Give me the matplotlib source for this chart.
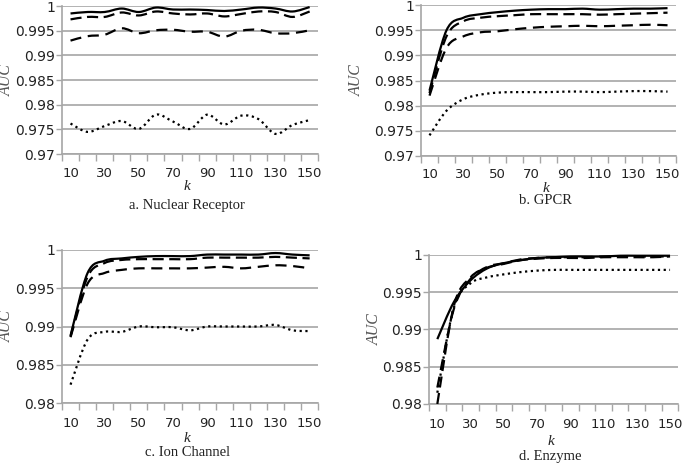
import numpy as np
import matplotlib
matplotlib.use("Agg")
import matplotlib.pyplot as plt
from matplotlib.path import Path
from matplotlib.patches import PathPatch

# k values (category axis)
k = [10, 20, 30, 40, 50, 60, 70, 80, 90, 100, 110, 120, 130, 140, 150]
k_labels = [10, 30, 50, 70, 90, 110, 130, 150]

# a. Nuclear Receptor
a_solid = [0.9985, 0.9988, 0.9988, 0.9995, 0.9988, 0.9997, 0.9993, 0.9993, 0.9992, 0.9990, 0.9993, 0.9997, 0.9995, 0.9989, 0.9998]
a_dash1 = [0.9973, 0.9978, 0.9978, 0.9987, 0.9981, 0.9989, 0.9985, 0.9983, 0.9985, 0.9979, 0.9984, 0.9989, 0.9988, 0.9978, 0.9989]
a_dash2 = [0.9930, 0.9939, 0.9942, 0.9955, 0.9945, 0.9951, 0.9952, 0.9948, 0.9948, 0.9938, 0.9950, 0.9952, 0.9945, 0.9945, 0.9951]
a_dot = [0.9762, 0.9745, 0.9757, 0.9767, 0.9751, 0.9780, 0.9766, 0.9751, 0.9780, 0.9760, 0.9778, 0.9771, 0.9741, 0.9759, 0.9769]

# b. GPCR
b_solid = [0.9830, 0.9950, 0.9975, 0.9982, 0.9986, 0.9989, 0.9991, 0.9992, 0.9992, 0.9993, 0.9991, 0.9992, 0.9993, 0.9993, 0.9994]
b_dash1 = [0.9825, 0.9938, 0.9968, 0.9975, 0.9978, 0.9980, 0.9982, 0.9982, 0.9982, 0.9982, 0.9981, 0.9982, 0.9983, 0.9984, 0.9985]
b_dash2 = [0.9820, 0.9915, 0.9938, 0.9946, 0.9948, 0.9952, 0.9955, 0.9957, 0.9958, 0.9959, 0.9958, 0.9959, 0.9960, 0.9961, 0.9960]
b_dot = [0.9741, 0.9790, 0.9813, 0.9822, 0.9826, 0.9827, 0.9827, 0.9827, 0.9828, 0.9828, 0.9827, 0.9828, 0.9829, 0.9829, 0.9828]

# c. Ion Channel
c_solid = [0.9888, 0.9970, 0.9986, 0.9989, 0.9991, 0.9992, 0.9992, 0.9992, 0.9994, 0.9994, 0.9994, 0.9994, 0.9996, 0.9994, 0.9993]
c_dash1 = [0.9887, 0.9965, 0.9983, 0.9987, 0.9988, 0.9988, 0.9988, 0.9988, 0.9990, 0.9990, 0.9990, 0.9990, 0.9991, 0.9990, 0.9989]
c_dash2 = [0.9886, 0.9956, 0.9970, 0.9974, 0.9976, 0.9976, 0.9976, 0.9976, 0.9977, 0.9978, 0.9976, 0.9978, 0.9980, 0.9979, 0.9976]
c_dot = [0.9824, 0.9883, 0.9893, 0.9893, 0.9900, 0.9899, 0.9899, 0.9895, 0.9900, 0.9900, 0.9900, 0.9900, 0.9902, 0.9895, 0.9894]

# d. Enzyme
d_solid = [0.9887, 0.9937, 0.9966, 0.9982, 0.9989, 0.9993, 0.9996, 0.9997, 0.9998, 0.9998, 0.9998, 0.9999, 0.9999, 0.9999, 0.9999]
d_dash1 = [0.9800, 0.9932, 0.9970, 0.9983, 0.9988, 0.9993, 0.9995, 0.9996, 0.9996, 0.9996, 0.9997, 0.9997, 0.9997, 0.9997, 0.9998]
d_dash2 = [0.9822, 0.9928, 0.9968, 0.9984, 0.9989, 0.9994, 0.9996, 0.9997, 0.9997, 0.9997, 0.9998, 0.9998, 0.9998, 0.9998, 0.9998]
d_dot = [0.9815, 0.9930, 0.9962, 0.9970, 0.9974, 0.9977, 0.9979, 0.9980, 0.9980, 0.9980, 0.9980, 0.9980, 0.9980, 0.9980, 0.9980]

yticks_ab = [0.97, 0.975, 0.98, 0.985, 0.99, 0.995, 1]
yticks_cd = [0.98, 0.985, 0.99, 0.995, 1]

grid_color = "#a6a6a6"
styles = [
    dict(linestyle="solid", lw=1.6),
    dict(linestyle=(0, (5, 2.5)), lw=1.6),
    dict(linestyle=(0, (5, 3)), lw=1.6),
    dict(linestyle=(0, (1, 1.6)), lw=1.6),
]


def smooth_path(x, y):
    # excel-like smoothed line: cubic bezier through every data point
    x = np.asarray(x, float)
    y = np.asarray(y, float)
    n = len(x)
    verts = [(x[0], y[0])]
    codes = [Path.MOVETO]
    for i in range(n - 1):
        i0 = max(i - 1, 0)
        i3 = min(i + 2, n - 1)
        c1 = (x[i] + (x[i + 1] - x[i0]) / 6, y[i] + (y[i + 1] - y[i0]) / 6)
        c2 = (x[i + 1] - (x[i3] - x[i]) / 6, y[i + 1] - (y[i3] - y[i]) / 6)
        verts += [c1, c2, (x[i + 1], y[i + 1])]
        codes += [Path.CURVE4] * 3
    return Path(verts, codes)


def draw_panel(ax, series, yticks, caption, auc_off, tick_off, k_off, cap_off):
    for ys, st in zip(series, styles):
        patch = PathPatch(smooth_path(k, ys), fill=False, edgecolor="black",
                          linewidth=st["lw"], linestyle=st["linestyle"],
                          capstyle="butt", joinstyle="round", clip_on=False, zorder=3)
        ax.add_patch(patch)
    ax.set_xlim(5, 155)
    ax.set_ylim(yticks[0], yticks[-1])
    ax.set_yticks(yticks)
    ax.set_yticklabels([f"{v:g}" for v in yticks])
    ax.set_xticks(np.arange(5, 156, 10))
    ax.set_xticklabels([])
    ax.set_xticks(k_labels, minor=True)
    ax.set_xticklabels([str(v) for v in k_labels], minor=True)
    ax.tick_params(axis="x", which="major", length=5, width=1, color=grid_color, direction="out")
    ax.tick_params(axis="x", which="minor", length=0, pad=tick_off, labelsize=9.5, labelcolor="#222222")
    ax.tick_params(axis="y", length=4, width=1, color=grid_color, direction="out", pad=1,
                   labelsize=10, labelcolor="#222222")
    ax.grid(axis="y", color=grid_color, linewidth=1.2, zorder=0)
    ax.set_axisbelow(True)
    for s in ["top", "right"]:
        ax.spines[s].set_visible(False)
    for s in ["left", "bottom"]:
        ax.spines[s].set_color(grid_color)
        ax.spines[s].set_linewidth(1.2)
    ax.annotate("AUC", xy=(0, 0.5), xycoords="axes fraction", xytext=(-auc_off, 0),
                textcoords="offset pixels", rotation=90, ha="center", va="center",
                family="Liberation Serif", style="italic", fontsize=11.5, color="#555555")
    ax.annotate("k", xy=(0.5, 0), xycoords="axes fraction", xytext=(-3, -k_off),
                textcoords="offset pixels", ha="center", va="center",
                family="Liberation Serif", style="italic", fontsize=11, color="#222222")
    ax.annotate(caption, xy=(0.5, 0), xycoords="axes fraction", xytext=(-3, -cap_off),
                textcoords="offset pixels", ha="center", va="center",
                family="Liberation Serif", fontsize=10.5, color="#222222")


fig = plt.figure(figsize=(6.85, 4.67), dpi=100)

ax_a = fig.add_axes([0.0905, 0.670, 0.374, 0.317])
ax_b = fig.add_axes([0.6146, 0.666, 0.3723, 0.323])
ax_c = fig.add_axes([0.0905, 0.137, 0.374, 0.3277])
ax_d = fig.add_axes([0.6263, 0.135, 0.364, 0.319])

draw_panel(ax_a, [a_solid, a_dash1, a_dash2, a_dot], yticks_ab, "a. Nuclear Receptor", 55, 9, 32, 51)
draw_panel(ax_b, [b_solid, b_dash1, b_dash2, b_dot], yticks_ab, "b. GPCR", 64, 9, 33, 45)
draw_panel(ax_c, [c_solid, c_dash1, c_dash2, c_dot], yticks_cd, "c. Ion Channel", 55, 10, 35, 49)
draw_panel(ax_d, [d_solid, d_dash1, d_dash2, d_dot], yticks_cd, "d. Enzyme", 54, 10, 38, 53)

fig.savefig("out.png", dpi=100)
